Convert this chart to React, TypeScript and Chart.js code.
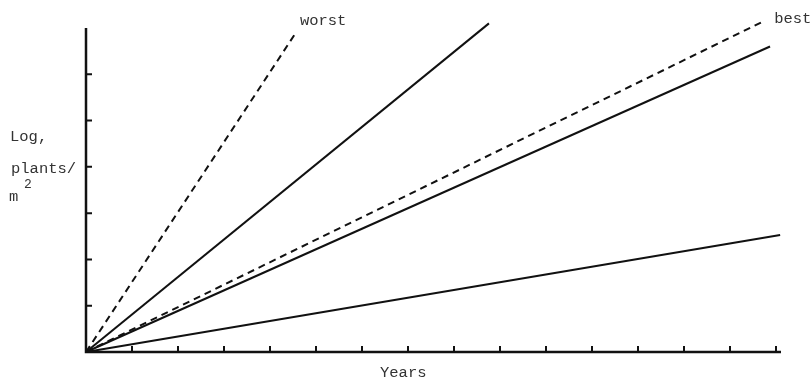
import React, { useEffect, useRef } from "react";
import { Chart, registerables } from "chart.js";

Chart.register(...registerables);

// Values (x in years ticks, y in log plants/m² ticks)
const xTicks = [1, 2, 3, 4, 5, 6, 7, 8, 9, 10, 11, 12, 13, 14, 15];
const yTicks = [1, 2, 3, 4, 5, 6];
const worstLine = [{ x: 0, y: 0 }, { x: 4.57, y: 6.91 }];
const steepLine = [{ x: 0, y: 0 }, { x: 8.76, y: 7.1 }];
const bestLine = [{ x: 0, y: 0 }, { x: 14.7, y: 7.13 }];
const middleLine = [{ x: 0, y: 0 }, { x: 14.87, y: 6.6 }];
const lowLine = [{ x: 0, y: 0 }, { x: 15.09, y: 2.53 }];
const lineLabels = [
  { text: "worst", x: 4.65, y: 7.15 },
  { text: "best", x: 14.96, y: 7.19 },
];
const xTitle = "Years";
const yTitleLines = ["Log,", "plants/", "m"];
const yTitleSup = "2";

const FONT = '"Liberation Mono", "DejaVu Sans Mono", monospace';
const TEXT = "#333";

const decor = {
  id: "decor",
  afterDatasetsDraw(chart: any) {
    const ctx = chart.ctx;
    const xs = chart.scales.x;
    const ys = chart.scales.y;
    const x0 = xs.getPixelForValue(0);
    const y0 = ys.getPixelForValue(0);
    const yTop = ys.getPixelForValue(7);
    const xEnd = xs.getPixelForValue(15) + 5;
    ctx.save();
    ctx.strokeStyle = "#111";
    ctx.lineCap = "butt";
    ctx.lineWidth = 2.5;
    ctx.beginPath();
    ctx.moveTo(x0, yTop);
    ctx.lineTo(x0, y0);
    ctx.lineTo(xEnd, y0);
    ctx.stroke();
    ctx.lineWidth = 2;
    ctx.beginPath();
    for (const t of yTicks) {
      const p = ys.getPixelForValue(t);
      ctx.moveTo(x0, p);
      ctx.lineTo(x0 + 6, p);
    }
    for (const t of xTicks) {
      const p = xs.getPixelForValue(t);
      ctx.moveTo(p, y0);
      ctx.lineTo(p, y0 - 6);
    }
    ctx.stroke();

    ctx.fillStyle = TEXT;
    ctx.font = `15.5px ${FONT}`;
    ctx.textBaseline = "middle";
    ctx.textAlign = "left";
    for (const l of lineLabels) {
      ctx.fillText(l.text, xs.getPixelForValue(l.x), ys.getPixelForValue(l.y));
    }
    ctx.fillText(xTitle, 380, 373);
    ctx.fillText(yTitleLines[0], 10, 137);
    ctx.fillText(yTitleLines[1], 11, 169);
    ctx.fillText(yTitleLines[2], 9, 197);
    ctx.font = `13px ${FONT}`;
    ctx.fillText(yTitleSup, 24, 185);
    ctx.restore();
  },
};

export default function App() {
  const ref = useRef<HTMLCanvasElement>(null);
  useEffect(() => {
    if (!ref.current) return;
    const mk = (data: any, dash: number[]) => ({
      data,
      borderColor: "#111",
      borderWidth: 2,
      borderDash: dash,
      pointRadius: 0,
      fill: false,
      clip: false,
      tension: 0,
    });
    const chart = new Chart(ref.current, {
      type: "line",
      data: {
        datasets: [
          mk(worstLine, [7, 5]),
          mk(steepLine, []),
          mk(bestLine, [7, 5]),
          mk(middleLine, []),
          mk(lowLine, []),
        ] as any,
      },
      options: {
        animation: false,
        responsive: false,
        layout: { padding: { left: 86, right: 36, top: 28, bottom: 28 } },
        plugins: { legend: { display: false }, tooltip: { enabled: false } },
        scales: {
          x: { type: "linear", min: 0, max: 15, display: false },
          y: { type: "linear", min: 0, max: 7, display: false },
        },
      },
      plugins: [decor],
    });
    return () => chart.destroy();
  }, []);
  return (
    <div style={{ position: "fixed", left: 0, top: 0, width: 812, height: 380, background: "#fff" }}>
      <canvas ref={ref} width={812} height={380} style={{ display: "block" }} />
    </div>
  );
}
